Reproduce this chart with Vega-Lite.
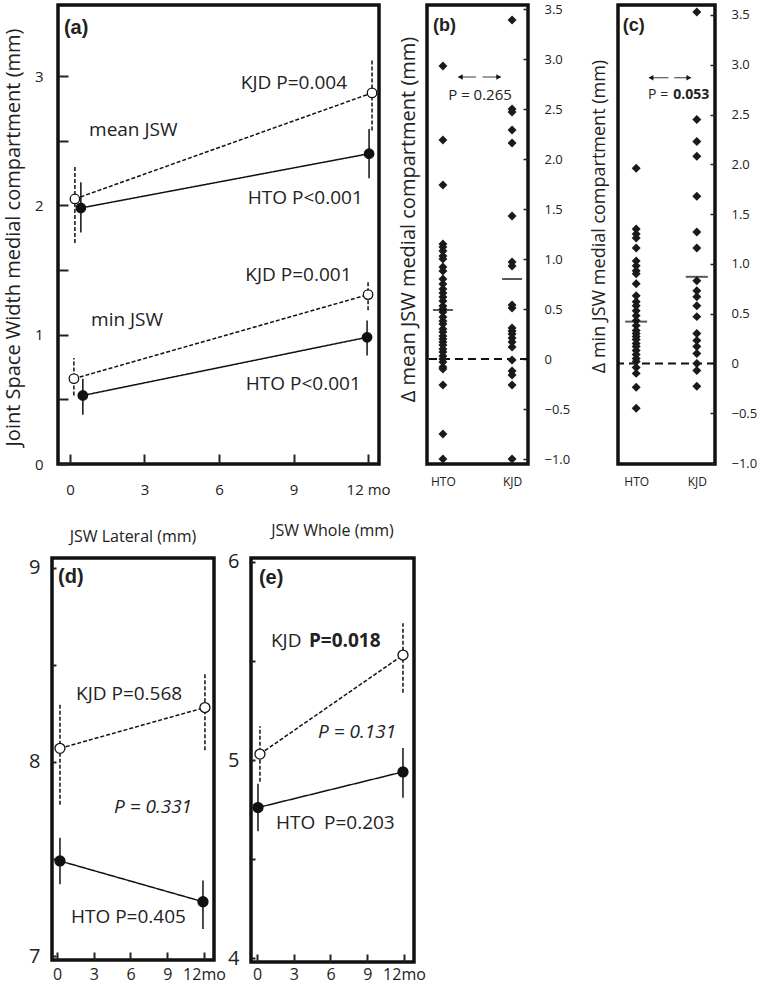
{
"$schema": "https://vega.github.io/schema/vega-lite/v6.json",
"padding": {"left": 1, "top": 1, "right": 0, "bottom": 0},
"bounds": "flush",
"spacing": 553,
"config": {
 "view": {"stroke": "#111", "strokeWidth": 3.5},
 "font": "Open Sans",
 "axis": {"domain": false, "grid": false, "labelFont": "Open Sans", "titleFont": "Open Sans", "titleFontWeight": "normal", "labelColor": "#222", "titleColor": "#222", "tickColor": "#222", "labelFlush": false, "labelOverlap": false},
 "title": {"font": "Open Sans", "fontWeight": "normal", "color": "#222"},
 "text": {"font": "Open Sans", "color": "#222"}
},
"datasets": {
 "a": [
  {"measure":"mean","group":"KJD","month":0.2,"jsw":2.05,"lo":1.71,"hi":2.31},
  {"measure":"mean","group":"KJD","month":12.16,"jsw":2.87,"lo":2.58,"hi":3.12},
  {"measure":"mean","group":"HTO","month":0.44,"jsw":1.98,"lo":1.79,"hi":2.18},
  {"measure":"mean","group":"HTO","month":12.04,"jsw":2.40,"lo":2.21,"hi":2.59},
  {"measure":"min","group":"KJD","month":0.16,"jsw":0.66,"lo":0.53,"hi":0.82},
  {"measure":"min","group":"KJD","month":12.0,"jsw":1.31,"lo":1.19,"hi":1.42},
  {"measure":"min","group":"HTO","month":0.52,"jsw":0.53,"lo":0.38,"hi":0.66},
  {"measure":"min","group":"HTO","month":11.96,"jsw":0.98,"lo":0.84,"hi":1.11}
 ],
 "d": [
  {"group":"KJD","month":0.24,"jsw":8.07,"lo":7.78,"hi":8.30},
  {"group":"KJD","month":12.08,"jsw":8.28,"lo":8.06,"hi":8.46},
  {"group":"HTO","month":0.24,"jsw":7.49,"lo":7.37,"hi":7.61},
  {"group":"HTO","month":11.92,"jsw":7.28,"lo":7.14,"hi":7.39}
 ],
 "e": [
  {"group":"KJD","month":0.24,"jsw":5.03,"lo":4.89,"hi":5.17},
  {"group":"KJD","month":11.92,"jsw":5.53,"lo":5.34,"hi":5.69},
  {"group":"HTO","month":0.08,"jsw":4.76,"lo":4.64,"hi":4.88},
  {"group":"HTO","month":11.92,"jsw":4.94,"lo":4.81,"hi":5.06}
 ],
 "b": [
  {"group":"HTO","delta":2.93},{"group":"HTO","delta":2.19},{"group":"HTO","delta":1.74},
  {"group":"HTO","delta":1.15},{"group":"HTO","delta":1.12},{"group":"HTO","delta":1.08},{"group":"HTO","delta":1.03},
  {"group":"HTO","delta":1.0},{"group":"HTO","delta":0.92},{"group":"HTO","delta":0.88},{"group":"HTO","delta":0.8},
  {"group":"HTO","delta":0.75},{"group":"HTO","delta":0.7},{"group":"HTO","delta":0.66},{"group":"HTO","delta":0.62},
  {"group":"HTO","delta":0.58},{"group":"HTO","delta":0.53},{"group":"HTO","delta":0.5},{"group":"HTO","delta":0.47},
  {"group":"HTO","delta":0.42},{"group":"HTO","delta":0.38},{"group":"HTO","delta":0.35},{"group":"HTO","delta":0.3},
  {"group":"HTO","delta":0.27},{"group":"HTO","delta":0.23},{"group":"HTO","delta":0.2},{"group":"HTO","delta":0.17},
  {"group":"HTO","delta":0.14},{"group":"HTO","delta":0.1},{"group":"HTO","delta":0.07},{"group":"HTO","delta":0.03},
  {"group":"HTO","delta":0.0},{"group":"HTO","delta":-0.03},{"group":"HTO","delta":-0.08},{"group":"HTO","delta":-0.1},
  {"group":"HTO","delta":-0.26},{"group":"HTO","delta":-0.75},{"group":"HTO","delta":-1.0},
  {"group":"KJD","delta":3.39},{"group":"KJD","delta":2.5},{"group":"KJD","delta":2.47},{"group":"KJD","delta":2.29},
  {"group":"KJD","delta":2.16},{"group":"KJD","delta":1.43},{"group":"KJD","delta":0.97},{"group":"KJD","delta":0.93},
  {"group":"KJD","delta":0.54},{"group":"KJD","delta":0.51},{"group":"KJD","delta":0.31},{"group":"KJD","delta":0.28},
  {"group":"KJD","delta":0.25},{"group":"KJD","delta":0.21},{"group":"KJD","delta":0.17},{"group":"KJD","delta":0.12},
  {"group":"KJD","delta":-0.01},{"group":"KJD","delta":-0.12},{"group":"KJD","delta":-0.16},{"group":"KJD","delta":-0.26},
  {"group":"KJD","delta":-1.0}
 ],
 "bm": [{"group":"HTO","mean":0.49},{"group":"KJD","mean":0.80}],
 "c": [
  {"group":"HTO","delta":1.96},{"group":"HTO","delta":1.35},{"group":"HTO","delta":1.3},{"group":"HTO","delta":1.26},
  {"group":"HTO","delta":1.16},{"group":"HTO","delta":1.03},{"group":"HTO","delta":0.98},{"group":"HTO","delta":0.93},
  {"group":"HTO","delta":0.9},{"group":"HTO","delta":0.8},{"group":"HTO","delta":0.68},{"group":"HTO","delta":0.62},
  {"group":"HTO","delta":0.58},{"group":"HTO","delta":0.53},{"group":"HTO","delta":0.48},{"group":"HTO","delta":0.43},
  {"group":"HTO","delta":0.38},{"group":"HTO","delta":0.33},{"group":"HTO","delta":0.3},{"group":"HTO","delta":0.27},
  {"group":"HTO","delta":0.24},{"group":"HTO","delta":0.2},{"group":"HTO","delta":0.17},{"group":"HTO","delta":0.13},
  {"group":"HTO","delta":0.09},{"group":"HTO","delta":0.05},{"group":"HTO","delta":0.02},{"group":"HTO","delta":-0.04},
  {"group":"HTO","delta":-0.1},{"group":"HTO","delta":-0.24},{"group":"HTO","delta":-0.45},
  {"group":"KJD","delta":3.53},{"group":"KJD","delta":2.45},{"group":"KJD","delta":2.23},{"group":"KJD","delta":2.08},
  {"group":"KJD","delta":1.68},{"group":"KJD","delta":1.32},{"group":"KJD","delta":1.16},{"group":"KJD","delta":0.83},
  {"group":"KJD","delta":0.73},{"group":"KJD","delta":0.67},{"group":"KJD","delta":0.58},{"group":"KJD","delta":0.47},
  {"group":"KJD","delta":0.3},{"group":"KJD","delta":0.23},{"group":"KJD","delta":0.17},{"group":"KJD","delta":0.1},
  {"group":"KJD","delta":0.0},{"group":"KJD","delta":-0.07},{"group":"KJD","delta":-0.23}
 ],
 "cm": [{"group":"HTO","mean":0.42},{"group":"KJD","mean":0.87}]
},
"vconcat": [
 {"bounds": "flush", "spacing": 5, "hconcat": [
  {"width": 1, "height": 10, "view": {"stroke": null}, "data": {"values": [{}]}, "mark": {"type": "point", "opacity": 0}},
  {"width": 321, "height": 459, "data": {"values": [{}]},
   "layer": [
    {"data": {"name": "a"}, "mark": {"type": "rule", "strokeWidth": 1.5, "color": "#111"},
     "encoding": {
      "x": {"field": "month", "type": "quantitative", "scale": {"domain": [-0.48, 12.44], "nice": false, "zero": false},
            "axis": {"values": [0,3,6,9,12], "labelExpr": "datum.value == 12 ? '12 mo' : format(datum.value, 'd')", "tickSize": -10, "tickWidth": 2, "labelFontSize": 15, "labelPadding": 28, "title": null}},
      "y": {"field": "lo", "type": "quantitative", "scale": {"domain": [0, 3.55], "nice": false, "zero": false},
            "axis": {"values": [0,0.5,1,1.5,2,2.5,3], "labelExpr": "datum.value % 1 === 0 ? format(datum.value, 'd') : ''", "tickSize": -10, "tickWidth": 2, "labelFontSize": 15, "labelPadding": 25, "title": "Joint Space Width medial compartment (mm)", "titleFontSize": 20, "titleX": -45, "titleY": 232, "titleBaseline": "middle", "titleAlign": "center", "titleAngle": 270}},
      "y2": {"field": "hi"},
      "strokeDash": {"field": "group", "type": "nominal", "scale": {"domain": ["HTO","KJD"], "range": [[1,0],[4,2]]}, "legend": null}
     }},
    {"data": {"name": "a"}, "mark": {"type": "line", "strokeWidth": 1.5, "color": "#111"},
     "encoding": {
      "x": {"field": "month", "type": "quantitative"},
      "y": {"field": "jsw", "type": "quantitative"},
      "detail": {"field": "measure"},
      "strokeDash": {"field": "group", "type": "nominal", "scale": {"domain": ["HTO","KJD"], "range": [[1,0],[4,2]]}, "legend": null}
     }},
    {"data": {"name": "a"}, "mark": {"type": "point", "shape": "circle", "filled": true, "size": 90, "stroke": "#111", "strokeWidth": 1.3, "opacity": 1},
     "encoding": {
      "x": {"field": "month", "type": "quantitative"},
      "y": {"field": "jsw", "type": "quantitative"},
      "fill": {"field": "group", "type": "nominal", "scale": {"domain": ["HTO","KJD"], "range": ["#111","white"]}, "legend": null}
     }},
    {"mark": {"type": "text", "text": "(a)", "font": "Liberation Sans", "fontWeight": "bold", "fontSize": 20, "align": "left", "baseline": "middle"},
     "encoding": {"x": {"datum": -0.24, "type": "quantitative"}, "y": {"datum": 3.37, "type": "quantitative"}}},
    {"mark": {"type": "text", "text": "KJD P=0.004", "fontSize": 19, "align": "left", "baseline": "middle"},
     "encoding": {"x": {"datum": 6.88, "type": "quantitative"}, "y": {"datum": 2.95, "type": "quantitative"}}},
    {"mark": {"type": "text", "text": "mean JSW", "fontSize": 19, "align": "left", "baseline": "middle"},
     "encoding": {"x": {"datum": 0.77, "type": "quantitative"}, "y": {"datum": 2.58, "type": "quantitative"}}},
    {"mark": {"type": "text", "text": "HTO P<0.001", "fontSize": 19, "align": "left", "baseline": "middle"},
     "encoding": {"x": {"datum": 7.16, "type": "quantitative"}, "y": {"datum": 2.06, "type": "quantitative"}}},
    {"mark": {"type": "text", "text": "KJD P=0.001", "fontSize": 19, "align": "left", "baseline": "middle"},
     "encoding": {"x": {"datum": 7.06, "type": "quantitative"}, "y": {"datum": 1.46, "type": "quantitative"}}},
    {"mark": {"type": "text", "text": "min JSW", "fontSize": 19, "align": "left", "baseline": "middle"},
     "encoding": {"x": {"datum": 0.85, "type": "quantitative"}, "y": {"datum": 1.11, "type": "quantitative"}}},
    {"mark": {"type": "text", "text": "HTO P<0.001", "fontSize": 19, "align": "left", "baseline": "middle"},
     "encoding": {"x": {"datum": 7.08, "type": "quantitative"}, "y": {"datum": 0.62, "type": "quantitative"}}}
   ]},
  {"width": 38, "height": 10, "view": {"stroke": null}, "data": {"values": [{}]}, "mark": {"type": "point", "opacity": 0}},
  {"width": 101, "height": 459, "data": {"values": [{}]},
   "title": {"text": "Δ mean JSW medial compartment (mm)", "orient": "left", "fontSize": 20, "offset": 7, "anchor": "middle", "dx": 15},
   "resolve": {"scale": {"x": "independent"}, "axis": {"x": "independent"}},
   "layer": [
    {"mark": {"type": "rule", "strokeDash": [8,5], "strokeWidth": 2, "color": "#111"},
     "encoding": {"y": {"datum": 0, "type": "quantitative"}}},
    {"data": {"name": "b"}, "mark": {"type": "point", "shape": "diamond", "filled": true, "size": 80, "color": "#1a1a1a", "opacity": 1},
     "encoding": {
      "x": {"field": "group", "type": "nominal", "scale": {"type": "point", "domain": ["HTO","KJD"], "padding": 0.23},
            "axis": {"orient": "bottom", "ticks": false, "labelAngle": 0, "labelFontSize": 12, "labelPadding": 12, "title": null}},
      "y": {"field": "delta", "type": "quantitative", "scale": {"domain": [-1.05, 3.54], "nice": false, "zero": false},
            "axis": {"orient": "right", "values": [-1,-0.5,0,0.5,1,1.5,2,2.5,3,3.5], "labelExpr": "datum.value === 0 ? '0' : format(datum.value, '.1f')", "tickSize": -5, "tickWidth": 1.5, "labelFontSize": 13, "labelPadding": 21, "title": null}}
     }},
    {"data": {"name": "bm"}, "mark": {"type": "tick", "orient": "horizontal", "size": 20, "thickness": 2, "color": "#111"},
     "encoding": {
      "x": {"field": "group", "type": "nominal", "scale": {"type": "point", "domain": ["HTO","KJD"], "padding": 0.23}, "axis": null},
      "y": {"field": "mean", "type": "quantitative"}
     }},
    {"mark": {"type": "rule", "color": "#666", "strokeWidth": 1.3},
     "encoding": {"x": {"datum": 0.31, "type": "quantitative", "scale": {"domain": [0,1]}, "axis": null}, "x2": {"datum": 0.485}, "y": {"datum": 2.82, "type": "quantitative"}}},
    {"mark": {"type": "rule", "color": "#666", "strokeWidth": 1.3},
     "encoding": {"x": {"datum": 0.55, "type": "quantitative", "scale": {"domain": [0,1]}, "axis": null}, "x2": {"datum": 0.73}, "y": {"datum": 2.82, "type": "quantitative"}}},
    {"mark": {"type": "point", "shape": "triangle-left", "filled": true, "size": 30, "color": "#111", "opacity": 1},
     "encoding": {"x": {"datum": 0.33, "type": "quantitative", "scale": {"domain": [0,1]}, "axis": null}, "y": {"datum": 2.82, "type": "quantitative"}}},
    {"mark": {"type": "point", "shape": "triangle-right", "filled": true, "size": 30, "color": "#111", "opacity": 1},
     "encoding": {"x": {"datum": 0.71, "type": "quantitative", "scale": {"domain": [0,1]}, "axis": null}, "y": {"datum": 2.82, "type": "quantitative"}}},
    {"mark": {"type": "text", "text": "P = 0.265", "fontSize": 15, "align": "center", "baseline": "middle"},
     "encoding": {"x": {"datum": 0.525, "type": "quantitative", "scale": {"domain": [0,1]}, "axis": null}, "y": {"datum": 2.64, "type": "quantitative"}}},
    {"mark": {"type": "text", "text": "(b)", "font": "Liberation Sans", "fontWeight": "bold", "fontSize": 18, "align": "left", "baseline": "middle"},
     "encoding": {"x": {"datum": 0.06, "type": "quantitative", "scale": {"domain": [0,1]}, "axis": null}, "y": {"datum": 3.33, "type": "quantitative"}}}
   ]},
  {"width": 80, "height": 10, "view": {"stroke": null}, "data": {"values": [{}]}, "mark": {"type": "point", "opacity": 0}},
  {"width": 97, "height": 459, "data": {"values": [{}]},
   "title": {"text": "Δ min JSW medial compartment (mm)", "orient": "left", "fontSize": 18, "offset": 8, "anchor": "middle", "dx": 18},
   "resolve": {"scale": {"x": "independent"}, "axis": {"x": "independent"}},
   "layer": [
    {"mark": {"type": "rule", "strokeDash": [8,5], "strokeWidth": 2, "color": "#111"},
     "encoding": {"y": {"datum": 0, "type": "quantitative"}}},
    {"data": {"name": "c"}, "mark": {"type": "point", "shape": "diamond", "filled": true, "size": 80, "color": "#1a1a1a", "opacity": 1},
     "encoding": {
      "x": {"field": "group", "type": "nominal", "scale": {"type": "point", "domain": ["HTO","KJD"], "padding": 0.3},
            "axis": {"orient": "bottom", "ticks": false, "labelAngle": 0, "labelFontSize": 12, "labelPadding": 12, "title": null}},
      "y": {"field": "delta", "type": "quantitative", "scale": {"domain": [-1.01, 3.6], "nice": false, "zero": false},
            "axis": {"orient": "right", "values": [-1,-0.5,0,0.5,1,1.5,2,2.5,3,3.5], "labelExpr": "datum.value === 0 ? '0' : format(datum.value, '.1f')", "tickSize": -5, "tickWidth": 1.5, "labelFontSize": 13, "labelPadding": 21, "title": null}}
     }},
    {"data": {"name": "cm"}, "mark": {"type": "tick", "orient": "horizontal", "size": 22, "thickness": 2, "color": "#111"},
     "encoding": {
      "x": {"field": "group", "type": "nominal", "scale": {"type": "point", "domain": ["HTO","KJD"], "padding": 0.3}, "axis": null},
      "y": {"field": "mean", "type": "quantitative"}
     }},
    {"mark": {"type": "rule", "color": "#666", "strokeWidth": 1.3},
     "encoding": {"x": {"datum": 0.32, "type": "quantitative", "scale": {"domain": [0,1]}, "axis": null}, "x2": {"datum": 0.52}, "y": {"datum": 2.87, "type": "quantitative"}}},
    {"mark": {"type": "rule", "color": "#666", "strokeWidth": 1.3},
     "encoding": {"x": {"datum": 0.58, "type": "quantitative", "scale": {"domain": [0,1]}, "axis": null}, "x2": {"datum": 0.75}, "y": {"datum": 2.87, "type": "quantitative"}}},
    {"mark": {"type": "point", "shape": "triangle-left", "filled": true, "size": 30, "color": "#111", "opacity": 1},
     "encoding": {"x": {"datum": 0.34, "type": "quantitative", "scale": {"domain": [0,1]}, "axis": null}, "y": {"datum": 2.87, "type": "quantitative"}}},
    {"mark": {"type": "point", "shape": "triangle-right", "filled": true, "size": 30, "color": "#111", "opacity": 1},
     "encoding": {"x": {"datum": 0.73, "type": "quantitative", "scale": {"domain": [0,1]}, "axis": null}, "y": {"datum": 2.87, "type": "quantitative"}}},
    {"mark": {"type": "text", "text": "P =", "fontSize": 14, "align": "left", "baseline": "middle"},
     "encoding": {"x": {"datum": 0.31, "type": "quantitative", "scale": {"domain": [0,1]}, "axis": null}, "y": {"datum": 2.70, "type": "quantitative"}}},
    {"mark": {"type": "text", "text": "0.053", "fontSize": 14, "fontWeight": "bold", "align": "left", "baseline": "middle"},
     "encoding": {"x": {"datum": 0.57, "type": "quantitative", "scale": {"domain": [0,1]}, "axis": null}, "y": {"datum": 2.70, "type": "quantitative"}}},
    {"mark": {"type": "text", "text": "(c)", "font": "Liberation Sans", "fontWeight": "bold", "fontSize": 18, "align": "left", "baseline": "middle"},
     "encoding": {"x": {"datum": 0.05, "type": "quantitative", "scale": {"domain": [0,1]}, "axis": null}, "y": {"datum": 3.39, "type": "quantitative"}}}
   ]}
 ]},
 {"bounds": "flush", "spacing": 37, "hconcat": [
  {"width": 162, "height": 402, "data": {"values": [{}]},
   "title": {"text": "JSW Lateral (mm)", "fontSize": 16, "offset": 13, "anchor": "middle"},
   "layer": [
    {"data": {"name": "d"}, "mark": {"type": "rule", "strokeWidth": 1.5, "color": "#111"},
     "encoding": {
      "x": {"field": "month", "type": "quantitative", "scale": {"domain": [-0.41, 12.82], "nice": false, "zero": false},
            "axis": {"values": [0,3,6,9,12], "labelExpr": "datum.value == 12 ? '12mo' : format(datum.value, 'd')", "tickSize": -8, "tickWidth": 2, "labelFontSize": 16, "labelPadding": 14, "title": null}},
      "y": {"field": "lo", "type": "quantitative", "scale": {"domain": [6.98, 9.05], "nice": false, "zero": false},
            "axis": {"values": [7,7.5,8,8.5,9], "labelExpr": "datum.value % 1 === 0 ? format(datum.value, 'd') : ''", "tickSize": -4, "tickWidth": 2, "labelFontSize": 20, "labelPadding": 16, "title": null}},
      "y2": {"field": "hi"},
      "strokeDash": {"field": "group", "type": "nominal", "scale": {"domain": ["HTO","KJD"], "range": [[1,0],[4,2]]}, "legend": null}
     }},
    {"data": {"name": "d"}, "mark": {"type": "line", "strokeWidth": 1.5, "color": "#111"},
     "encoding": {
      "x": {"field": "month", "type": "quantitative"},
      "y": {"field": "jsw", "type": "quantitative"},
      "strokeDash": {"field": "group", "type": "nominal", "scale": {"domain": ["HTO","KJD"], "range": [[1,0],[4,2]]}, "legend": null}
     }},
    {"data": {"name": "d"}, "mark": {"type": "point", "shape": "circle", "filled": true, "size": 100, "stroke": "#111", "strokeWidth": 1.3, "opacity": 1},
     "encoding": {
      "x": {"field": "month", "type": "quantitative"},
      "y": {"field": "jsw", "type": "quantitative"},
      "fill": {"field": "group", "type": "nominal", "scale": {"domain": ["HTO","KJD"], "range": ["#111","white"]}, "legend": null}
     }},
    {"mark": {"type": "text", "text": "(d)", "font": "Liberation Sans", "fontWeight": "bold", "fontSize": 20, "align": "left", "baseline": "middle"},
     "encoding": {"x": {"datum": 0.08, "type": "quantitative"}, "y": {"datum": 8.95, "type": "quantitative"}}},
    {"mark": {"type": "text", "text": "KJD P=0.568", "fontSize": 19, "align": "left", "baseline": "middle"},
     "encoding": {"x": {"datum": 1.55, "type": "quantitative"}, "y": {"datum": 8.35, "type": "quantitative"}}},
    {"mark": {"type": "text", "text": "P = 0.331", "fontSize": 19, "fontStyle": "italic", "align": "left", "baseline": "middle"},
     "encoding": {"x": {"datum": 4.65, "type": "quantitative"}, "y": {"datum": 7.77, "type": "quantitative"}}},
    {"mark": {"type": "text", "text": "HTO P=0.405", "fontSize": 19, "align": "left", "baseline": "middle"},
     "encoding": {"x": {"datum": 1.14, "type": "quantitative"}, "y": {"datum": 7.2, "type": "quantitative"}}}
   ]},
  {"width": 163, "height": 404, "data": {"values": [{}]},
   "title": {"text": "JSW Whole (mm)", "fontSize": 16, "offset": 13, "anchor": "middle"},
   "layer": [
    {"data": {"name": "e"}, "mark": {"type": "rule", "strokeWidth": 1.5, "color": "#111"},
     "encoding": {
      "x": {"field": "month", "type": "quantitative", "scale": {"domain": [-0.49, 12.82], "nice": false, "zero": false},
            "axis": {"values": [0,3,6,9,12], "labelExpr": "datum.value == 12 ? '12mo' : format(datum.value, 'd')", "tickSize": -8, "tickWidth": 2, "labelFontSize": 16, "labelPadding": 12, "title": null}},
      "y": {"field": "lo", "type": "quantitative", "scale": {"domain": [3.98, 6.02], "nice": false, "zero": false},
            "axis": {"values": [4,4.5,5,5.5,6], "labelExpr": "datum.value % 1 === 0 ? format(datum.value, 'd') : ''", "tickSize": -4, "tickWidth": 2, "labelFontSize": 20, "labelPadding": 16, "title": null}},
      "y2": {"field": "hi"},
      "strokeDash": {"field": "group", "type": "nominal", "scale": {"domain": ["HTO","KJD"], "range": [[1,0],[4,2]]}, "legend": null}
     }},
    {"data": {"name": "e"}, "mark": {"type": "line", "strokeWidth": 1.5, "color": "#111"},
     "encoding": {
      "x": {"field": "month", "type": "quantitative"},
      "y": {"field": "jsw", "type": "quantitative"},
      "strokeDash": {"field": "group", "type": "nominal", "scale": {"domain": ["HTO","KJD"], "range": [[1,0],[4,2]]}, "legend": null}
     }},
    {"data": {"name": "e"}, "mark": {"type": "point", "shape": "circle", "filled": true, "size": 100, "stroke": "#111", "strokeWidth": 1.3, "opacity": 1},
     "encoding": {
      "x": {"field": "month", "type": "quantitative"},
      "y": {"field": "jsw", "type": "quantitative"},
      "fill": {"field": "group", "type": "nominal", "scale": {"domain": ["HTO","KJD"], "range": ["#111","white"]}, "legend": null}
     }},
    {"mark": {"type": "text", "text": "(e)", "font": "Liberation Sans", "fontWeight": "bold", "fontSize": 20, "align": "left", "baseline": "middle"},
     "encoding": {"x": {"datum": 0.16, "type": "quantitative"}, "y": {"datum": 5.92, "type": "quantitative"}}},
    {"mark": {"type": "text", "text": "KJD", "fontSize": 19, "align": "left", "baseline": "middle"},
     "encoding": {"x": {"datum": 1.14, "type": "quantitative"}, "y": {"datum": 5.6, "type": "quantitative"}}},
    {"mark": {"type": "text", "text": "P=0.018", "fontSize": 19, "fontWeight": "bold", "align": "left", "baseline": "middle"},
     "encoding": {"x": {"datum": 4.24, "type": "quantitative"}, "y": {"datum": 5.6, "type": "quantitative"}}},
    {"mark": {"type": "text", "text": "P = 0.131", "fontSize": 19, "fontStyle": "italic", "align": "left", "baseline": "middle"},
     "encoding": {"x": {"datum": 4.98, "type": "quantitative"}, "y": {"datum": 5.14, "type": "quantitative"}}},
    {"mark": {"type": "text", "text": "HTO", "fontSize": 19, "align": "left", "baseline": "middle"},
     "encoding": {"x": {"datum": 1.55, "type": "quantitative"}, "y": {"datum": 4.68, "type": "quantitative"}}},
    {"mark": {"type": "text", "text": "P=0.203", "fontSize": 19, "align": "left", "baseline": "middle"},
     "encoding": {"x": {"datum": 5.47, "type": "quantitative"}, "y": {"datum": 4.68, "type": "quantitative"}}}
   ]}
 ]}
]
}
